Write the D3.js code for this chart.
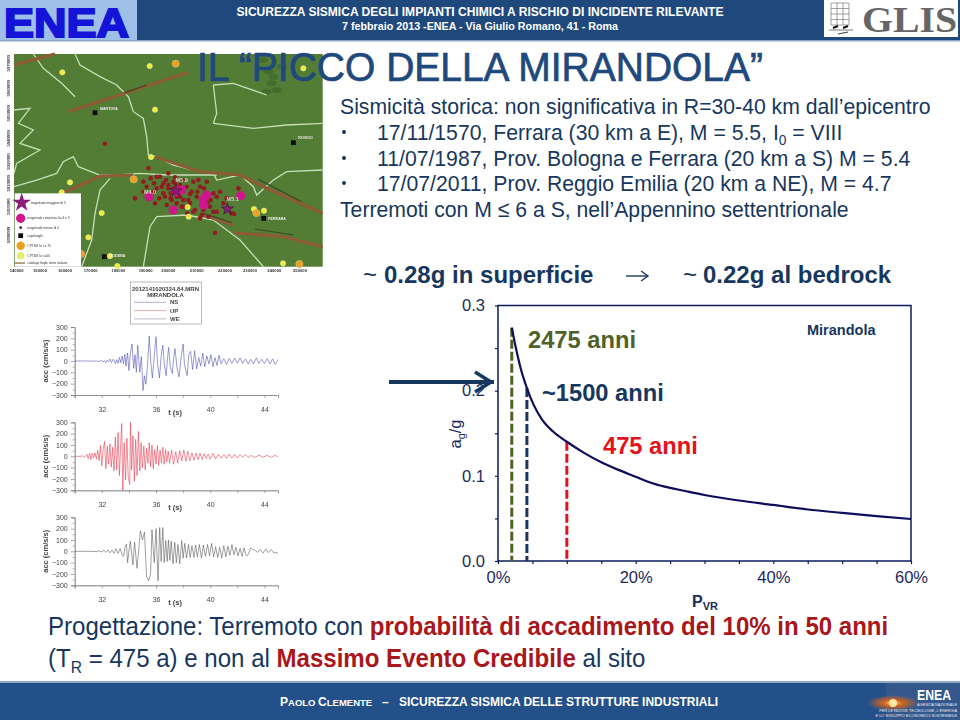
<!DOCTYPE html>
<html><head><meta charset="utf-8">
<style>html,body{margin:0;padding:0;background:#fff}svg{display:block}text{font-family:"Liberation Sans",Arial,sans-serif}</style>
<script src="https://cdn.jsdelivr.net/npm/d3@7"></script></head>
<body><svg id="s" width="960" height="720"></svg>
<script>
// ---------- hazard curve ----------
const pvrPct = [2.0,2.6,3.3,4.2,5.2,6.4,8,10,12.5,15,17.5,20,22,24.2,27,30,35,40,45,50,55,60];
const agOverG = [0.274,0.25,0.226,0.203,0.183,0.166,0.152,0.14,0.127,0.116,0.107,0.099,0.0925,0.0873,0.0825,0.0775,0.071,0.0658,0.0605,0.0565,0.0527,0.0493];
const dashPct = [2.0,4.2,10];
const dashTop = [0.274,0.203,0.14];
const dashColors = ["#4f6228","#17375e","#e3121b"];
const xMajor = [0,20,40,60], xMinor = [5,10,15,25,30,35,45,50,55];
const yMajor = [0,0.1,0.2,0.3], yMinor = [0.05,0.15,0.25];
// ---------- accelerograms (turning points) ----------
const nsT = [30,31,31.5,31.8,32,32.1,32.2,32.3,32.4,32.5,32.6,32.7,32.85,33,33.1,33.2,33.3,33.4,33.5,33.6,33.7,33.78,33.9,34,34.1,34.23,34.35,34.45,34.55,34.65,34.8,34.92,35.04,35.14,35.25,35.36,35.5,35.62,35.73,35.88,36,36.12,36.25,36.38,36.5,36.62,36.75,36.85,36.93,37.05,37.2,37.3,37.4,37.55,37.7,37.85,38,38.1,38.3,38.42,38.55,38.7,38.85,39,39.15,39.3,39.45,39.6,39.75,39.9,40.05,40.2,40.35,40.5,40.65,40.8,41,41.2,41.4,41.6,41.8,42,42.2,42.4,42.6,42.8,43,43.2,43.4,43.6,43.8,44,44.2,44.4,44.6,44.8,45];
const nsA = [0,0,-1,-3,6,-9,4,-16,7,-6,18,-12,16,-22,12,-20,32,-15,45,-25,60,-45,70,-85,60,150,-65,55,-100,140,-100,40,-260,-130,-205,-60,220,-20,-150,60,215,-30,-150,40,140,-40,-130,30,120,-50,-110,20,110,-60,-140,30,150,-30,-130,60,85,-75,90,-70,30,-45,70,-50,45,-25,55,-50,30,-40,50,-25,20,-30,22,-20,25,-18,28,-22,18,-28,15,-25,28,-20,15,-22,20,-25,18,-30,12];
const upT = [30,30.4,30.6,30.75,30.9,31,31.1,31.2,31.3,31.4,31.5,31.6,31.7,31.8,31.9,32,32.1,32.2,32.3,32.4,32.5,32.6,32.7,32.8,32.9,33,33.1,33.2,33.3,33.4,33.47,33.55,33.65,33.75,33.85,33.95,34.06,34.12,34.2,34.3,34.4,34.5,34.6,34.7,34.8,34.9,35,35.1,35.2,35.3,35.4,35.5,35.6,35.7,35.8,35.9,36,36.1,36.2,36.3,36.4,36.5,36.6,36.7,36.8,36.9,37,37.15,37.3,37.45,37.6,37.75,37.9,38.05,38.2,38.35,38.5,38.65,38.8,38.95,39.1,39.25,39.4,39.55,39.7,39.85,40,40.2,40.4,40.6,40.8,41,41.2,41.4,41.6,41.8,42,42.2,42.4,42.6,42.8,43,43.3,43.6,43.9,44.2,44.5,44.8,45];
const upA = [0,0,4,-8,18,-22,25,-30,28,-15,30,-25,55,-40,95,-85,60,130,-110,90,-70,110,-95,80,-130,170,-120,210,-170,130,290,-300,120,-210,160,-190,-250,300,-120,180,-220,150,-170,220,-130,120,-100,90,-120,70,-60,120,-90,100,-110,60,-70,95,-80,55,-60,80,-70,60,-50,45,-60,55,-70,40,-60,50,-40,55,-45,45,-40,30,-35,28,-30,26,-28,22,-20,18,-25,25,-22,18,-15,15,-18,20,-16,18,-15,14,-12,15,-10,8,-10,10,-8,8,-10,9,-8,8,-4];
const weT = [30,31,31.5,31.8,32,32.15,32.3,32.45,32.6,32.75,32.9,33.05,33.2,33.35,33.5,33.6,33.72,33.82,33.9,34.1,34.3,34.42,34.6,34.85,35,35.15,35.3,35.45,35.6,35.7,35.87,36,36.15,36.27,36.38,36.5,36.6,36.72,36.82,36.92,37.02,37.12,37.25,37.38,37.5,37.62,37.75,37.9,38,38.12,38.25,38.4,38.52,38.65,38.8,38.92,39.05,39.2,39.35,39.5,39.65,39.8,39.95,40.1,40.25,40.4,40.55,40.7,40.85,41,41.15,41.3,41.45,41.6,41.75,41.9,42.05,42.2,42.35,42.5,42.65,42.8,43,43.15,43.3,43.5,43.7,43.9,44.1,44.3,44.5,44.7,44.85,45];
const weA = [0,0,-2,3,-6,8,-10,12,-14,10,-18,22,-20,25,-30,-45,40,65,-100,90,-120,80,-150,180,100,170,-220,-260,-200,190,-100,200,-260,210,-90,210,-100,95,-90,100,-80,90,-110,80,-100,60,-110,95,-60,70,-60,60,-55,50,-55,55,-50,60,-60,55,-45,60,-40,70,-50,40,-55,35,-60,50,-50,45,-35,60,-30,35,-40,25,-45,30,-40,-30,30,15,10,-10,15,-15,20,-12,15,-15,-8,-20];
const waveTicks = [32,36,40,44], waveTicksMinor = [30,34,38,42];
const waveY = [-300,-200,-100,0,100,200,300], waveYMinor = [-250,-150,-50,50,150,250];
const legendChannels = ["NS","UP","WE"];
const legendColors = ["#9c9cc8","#e29a9a","#a9a9c4"];
// ---------- map (raster coordinates of the scanned map) ----------
const yellowE=[187,449,465,453,210,185,305,265,330,563,566,762,792,849,910,352], yellowN=[97,78,209,351,427,457,519,592,648,501,530,507,512,670,85,678];
const orangeE=[527,401,769,898,243], orangeN=[71,418,519,672,642];
const blackE=[285,880,791,313], blackN=[218,308,535,650];
const magentaE=[447,545,520,611,620,722,530,610], magentaN=[470,450,510,495,465,467,455,478];
const starE=[528,682], starN=[452,507];
const quakeE=[315,645,445,430,440,452,462,470,480,490,498,505,512,520,405,430,465,478,490,500,515,530,540,550,560,570,580,590,600,610,620,630,640,650,660,670,680,695,715,702,640,625,600,580,562,545,530,512,495,470,460,485,505,525,548,570,592,612,632,650,595,575,550,525,505,520,540,565,585,605,622];
const quakeN=[311,578,385,425,440,415,430,445,410,430,420,445,460,425,475,455,490,475,460,495,480,470,435,480,440,490,425,470,440,510,425,500,460,470,455,490,475,520,445,522,515,530,535,515,520,500,490,475,470,410,455,440,400,412,420,462,455,445,480,515,420,455,500,430,435,445,470,480,510,525,490];
const faults=[[[205,215],[565,97]],[[42,75],[165,42]],[[465,350],[600,395],[720,405],[790,440],[968,520]],[[190,458],[300,408],[400,405]],[[610,525],[700,555]],[[700,578],[850,590],[968,620]]];
const faultMarks=[[[375,158],[440,135]],[[775,418],[905,485]],[[765,567],[880,585]],[[610,520],[695,548]]];
const rivers=[[[225,42],[240,75],[300,110],[350,135],[385,170],[400,215],[430,235],[440,290],[445,345],[470,350],[520,375],[580,390],[640,400],[650,420],[720,405],[760,440],[770,465],[820,420],[860,395],[968,390]],
[[42,440],[110,420],[170,400],[190,365],[220,350],[235,380],[300,405],[350,405],[420,400],[500,405],[580,405],[650,405]],
[[640,250],[760,265],[860,255],[968,250]],[[640,135],[700,130],[800,165]],[[640,135],[650,220],[640,250]],
[[330,415],[300,450],[285,520],[275,600],[245,680]],
[[430,680],[450,560],[470,530],[560,525],[640,540],[720,600],[790,680]],
[[42,210],[90,205],[55,250],[100,270],[60,310],[120,330],[50,370],[42,400]],[[100,42],[130,85],[185,130],[225,170]]];
const hillE=[790,805,815,830,845,800,820],hillN=[60,95,130,150,80,155,110];
const mapTicksE=[50,120,195,272,355,437,505,590,675,750,823,900], mapLabelsE=["140000","150000","160000","170000","180000","190000","200000","210000","220000","230000","240000","250000"];
const mapTicksN=[70,145,220,295,365,430,500,585], mapLabelsN=["5070000","5060000","5050000","5040000","5030000","5020000","5010000","5000000"];
const cityNames=["MANTOVA","ROVIGO","FERRARA","MODENA"], cityE=[300,895,805,328], cityN=[205,294,535,648];
const shockNames=["M4.0","M5.9","M5.1"], shockE=[450,545,698], shockN=[457,420,478];
const mapLegendText=["magnitudo maggiore di 5","magnitudo compresa fra 4 e 5","magnitudo minore di 4","capoluoghi","CPTI08 Io >= 75","CPTI08 Io >=60","catalogo faglie attive italiane"];
// ---------- slide text ----------
const headerLines=["SICUREZZA SISMICA DEGLI IMPIANTI CHIMICI A RISCHIO DI INCIDENTE RILEVANTE","7 febbraio 2013 -ENEA - Via Giulio Romano, 41 - Roma"];
const titleText="IL “PICCO DELLA MIRANDOLA”";

const navy="#17375e", svg=d3.select("#s");
const defs=svg.append("defs");
defs.append("filter").attr("id","b1").append("feGaussianBlur").attr("stdDeviation",0.7);
defs.append("filter").attr("id","b2").append("feGaussianBlur").attr("stdDeviation",0.35);
const fire=defs.append("radialGradient").attr("id","fire");
fire.append("stop").attr("offset","0%").attr("stop-color","#ffe08a");
fire.append("stop").attr("offset","35%").attr("stop-color","#d8641c");
fire.append("stop").attr("offset","100%").attr("stop-color","#d8641c").attr("stop-opacity",0);

// Text of several runs. A subscript starts a new <text>, placed after the width of the previous one.
function rich(parent,x,y,size,sx,fill,runs){
  const g=parent.append("g").attr("transform",`translate(${x},${y}) scale(${sx},1)`);
  let cur=null, cx=0;
  const flush=()=>{ if(cur){cx+=cur.node().getComputedTextLength(); cur=null;} };
  runs.forEach(r=>{const o=r[1]||{};
    if(o.sub){flush();
      const t=g.append("text").attr("x",cx).attr("y",size*0.22).attr("font-size",size*0.65).attr("fill",fill).text(r[0]);
      cx+=t.node().getComputedTextLength(); return;}
    if(!cur) cur=g.append("text").attr("x",cx).attr("y",0).attr("font-size",size).attr("fill",fill).attr("xml:space","preserve").style("white-space","pre");
    const s=cur.append("tspan").text(r[0]);
    if(o.bold)s.attr("font-weight","bold"); if(o.fill)s.attr("fill",o.fill);
  });
  return g;
}

// ---------- header ----------
svg.append("rect").attr("width",960).attr("height",40).attr("fill","#1f497d");
svg.append("rect").attr("y",40).attr("width",960).attr("height",1.5).attr("fill","#8ea6c6");
svg.append("rect").attr("width",137).attr("height",40).attr("fill","#9dbfe8");
svg.append("text").attr("x",4).attr("y",37).attr("font-size",41).attr("font-weight","bold").attr("fill","#1414d8").attr("stroke","#1414d8").attr("stroke-width",2).attr("textLength",125).attr("lengthAdjust","spacingAndGlyphs").text("ENEA");
svg.append("rect").attr("x",824).attr("width",134).attr("height",37).attr("fill","#fff");
const gi=svg.append("g").attr("stroke","#888").attr("stroke-width",.8);
d3.range(4).forEach(i=>gi.append("line").attr("x1",831+i*6).attr("x2",831+i*6).attr("y1",3).attr("y2",25));
d3.range(5).forEach(i=>gi.append("line").attr("x1",831).attr("x2",849).attr("y1",3+i*5.5).attr("y2",3+i*5.5));
gi.append("line").attr("x1",829).attr("x2",853).attr("y1",30).attr("y2",30).attr("stroke","#555");
gi.append("path").attr("d",d3.line()([[833,28],[838,26]])).attr("stroke","#111").attr("stroke-width",2);
gi.append("path").attr("d",d3.line()([[843,28],[848,26]])).attr("stroke","#111").attr("stroke-width",2);
gi.append("path").attr("d",d3.line()([[848,32],[838,34]])).attr("stroke","#444").attr("stroke-width",1.2);
svg.append("text").attr("x",862).attr("y",32).attr("font-size",36).attr("font-weight","bold").attr("fill","#666").attr("style","font-family:'Liberation Serif',serif").attr("textLength",95).attr("lengthAdjust","spacingAndGlyphs").text("GLIS");
svg.append("text").attr("x",480).attr("y",16).attr("text-anchor","middle").attr("font-size",12).attr("font-weight","bold").attr("fill","#fff").attr("textLength",487).attr("lengthAdjust","spacingAndGlyphs").text(headerLines[0]);
svg.append("text").attr("x",480).attr("y",30).attr("text-anchor","middle").attr("font-size",11).attr("font-weight","bold").attr("fill","#fff").attr("textLength",276).attr("lengthAdjust","spacingAndGlyphs").text(headerLines[1]);

// ---------- map ----------
const mx=d3.scaleLinear([42,968],[14,322.7]), my=d3.scaleLinear([42,680],[54,266.7]);
const mg=svg.append("g").attr("filter","url(#b1)");
mg.append("rect").attr("x",mx(42)).attr("y",my(42)).attr("width",mx(968)-mx(42)).attr("height",my(680)-my(42)).attr("fill","#527b35");
const ml=d3.line().x(d=>mx(d[0])).y(d=>my(d[1]));
mg.selectAll(".h").data(hillE).enter().append("ellipse").attr("cx",d=>mx(d)).attr("cy",(d,i)=>my(hillN[i])).attr("rx",5).attr("ry",3).attr("fill","#3f6a2c").attr("opacity",.8);
mg.selectAll(".r").data(rivers).enter().append("path").attr("d",ml).attr("fill","none").attr("stroke","#c6dfb6").attr("stroke-width",1.3);
mg.selectAll(".f").data(faults).enter().append("path").attr("d",ml).attr("fill","none").attr("stroke","#8d5c36").attr("stroke-width",3.2);
mg.selectAll(".fm").data(faultMarks).enter().append("path").attr("d",ml).attr("fill","none").attr("stroke","#3e4a26").attr("stroke-width",1.2);
mg.selectAll(".q").data(quakeE).enter().append("circle").attr("cx",d=>mx(d)).attr("cy",(d,i)=>my(quakeN[i])).attr("r",2.3).attr("fill","#931c20");
mg.selectAll(".m").data(magentaE).enter().append("circle").attr("cx",d=>mx(d)).attr("cy",(d,i)=>my(magentaN[i])).attr("r",4.6).attr("fill","#d0178c");
mg.selectAll(".y").data(yellowE).enter().append("circle").attr("cx",d=>mx(d)).attr("cy",(d,i)=>my(yellowN[i])).attr("r",2.6).attr("fill","#eeee30").attr("stroke","#e8e89a").attr("stroke-width",.8);
mg.selectAll(".o").data(orangeE).enter().append("circle").attr("cx",d=>mx(d)).attr("cy",(d,i)=>my(orangeN[i])).attr("r",3.6).attr("fill","#eea020").attr("stroke","#d8b86a").attr("stroke-width",.8);
mg.selectAll(".b").data(blackE).enter().append("rect").attr("x",d=>mx(d)-2.4).attr("y",(d,i)=>my(blackN[i])-2.4).attr("width",4.8).attr("height",4.8).attr("fill","#0a0a0a");
const star=d3.symbol().type(d3.symbolStar).size(46);
mg.selectAll(".s").data(starE).enter().append("path").attr("d",star).attr("transform",(d,i)=>`translate(${mx(d)},${my(starN[i])})`).attr("fill","#8a1f7a").attr("stroke","#30102a").attr("stroke-width",.6);
mg.selectAll(".c").data(cityNames).enter().append("text").attr("x",(d,i)=>mx(cityE[i])).attr("y",(d,i)=>my(cityN[i])+1.2).attr("font-size",3.6).attr("font-weight","bold").attr("fill","#eee").text(d=>d);
mg.selectAll(".sh").data(shockNames).enter().append("text").attr("x",(d,i)=>mx(shockE[i])).attr("y",(d,i)=>my(shockN[i])+2).attr("font-size",5.5).attr("font-weight","bold").attr("fill","#d5d5c8").attr("text-anchor","middle").text(d=>d);
// map legend
const lg=mg.append("g");
lg.append("rect").attr("x",mx(44)).attr("y",my(460)).attr("width",mx(243)-mx(44)).attr("height",my(680)-my(460)).attr("fill","#fff");
const lgY=[488,535,563,587,617,647,669];
lg.append("path").attr("d",d3.symbol().type(d3.symbolStar).size(110)).attr("transform",`translate(${mx(65)},${my(lgY[0])})`).attr("fill","#8a1f7a");
lg.append("circle").attr("cx",mx(62)).attr("cy",my(lgY[1])).attr("r",4.6).attr("fill","#d0178c");
lg.append("circle").attr("cx",mx(62)).attr("cy",my(lgY[2])).attr("r",1.4).attr("fill","#502020");
lg.append("rect").attr("x",mx(62)-2.4).attr("y",my(lgY[3])-2.4).attr("width",4.8).attr("height",4.8).attr("fill","#0a0a0a");
lg.append("circle").attr("cx",mx(62)).attr("cy",my(lgY[4])).attr("r",4.2).attr("fill","#eea020");
lg.append("circle").attr("cx",mx(62)).attr("cy",my(lgY[5])).attr("r",3.8).attr("fill","#e6ee70");
lg.append("line").attr("x1",mx(44)).attr("x2",mx(75)).attr("y1",my(lgY[6])).attr("y2",my(lgY[6])).attr("stroke","#8d5c36").attr("stroke-width",1.2);
lg.selectAll("text").data(mapLegendText).enter().append("text").attr("x",(d,i)=>mx(i==0?92:82)).attr("y",(d,i)=>my(lgY[i])+1).attr("font-size",3.2).attr("fill","#333").text(d=>d);
// map axes
mg.selectAll(".tx").data(mapLabelsE).enter().append("text").attr("x",(d,i)=>mx(mapTicksE[i])).attr("y",272).attr("text-anchor","middle").attr("font-size",4.2).attr("font-weight","bold").attr("fill","#333").text(d=>d);
mg.selectAll(".ty").data(mapLabelsN).enter().append("text").attr("transform",(d,i)=>`translate(10,${my(mapTicksN[i])}) rotate(-90)`).attr("text-anchor","middle").attr("font-size",4.2).attr("font-weight","bold").attr("fill","#333").text(d=>d);

// ---------- title and text ----------
svg.append("text").attr("x",480).attr("y",81).attr("text-anchor","middle").attr("font-size",40).attr("fill","#1f497d").attr("stroke","#1f497d").attr("stroke-width",.7).attr("textLength",566).attr("lengthAdjust","spacingAndGlyphs").text(titleText);
const fs=22.8, sx=0.93;
rich(svg,340,114,fs,sx,navy,[["Sismicità storica: non significativa in R=30-40 km dall’epicentro"]]);
rich(svg,377,140,fs,sx,navy,[["17/11/1570, Ferrara (30 km a E), M = 5.5, I"],["0",{sub:1}],[" = VIII"]]);
rich(svg,377,166,fs,sx,navy,[["11/07/1987, Prov. Bologna e Ferrara (20 km a S) M = 5.4"]]);
rich(svg,377,191,fs,sx,navy,[["17/07/2011, Prov. Reggio Emilia (20 km a NE), M = 4.7"]]);
rich(svg,340,217,fs,sx,navy,[["Terremoti con M ≤ 6 a S, nell’Appennino settentrionale"]]);
[132,158,183].forEach(y=>svg.append("circle").attr("cx",344).attr("cy",y).attr("r",2).attr("fill",navy));
svg.append("text").attr("x",363).attr("y",283).attr("font-size",24).attr("fill",navy).text("~");
svg.append("text").attr("x",384).attr("y",283).attr("font-size",24).attr("font-weight","bold").attr("fill",navy).text("0.28g in superficie");
svg.append("text").attr("x",683).attr("y",283).attr("font-size",24).attr("fill",navy).text("~");
svg.append("text").attr("x",703).attr("y",283).attr("font-size",24).attr("font-weight","bold").attr("fill",navy).text("0.22g al bedrock");
const arrowLine=d3.line();
svg.append("path").attr("d",arrowLine([[626,276],[648,276]])).attr("stroke",navy).attr("stroke-width",1.4);
svg.append("path").attr("d",arrowLine([[641,271],[648,276],[641,281]])).attr("fill","none").attr("stroke",navy).attr("stroke-width",1.4);

// ---------- hazard chart ----------
const X=d3.scaleLinear([0,60],[498,911]), Y=d3.scaleLinear([0,0.3],[561,305.5]);
const axc="#0d1a5c", c=svg.append("g");
c.append("rect").attr("x",X(0)).attr("y",Y(.3)).attr("width",X(60)-X(0)).attr("height",Y(0)-Y(.3)).attr("fill","none").attr("stroke",axc).attr("stroke-width",1.5);
const style=g=>{g.select(".domain").remove();g.selectAll("line").attr("stroke",axc).attr("stroke-width",1.2);g.selectAll("text").attr("font-size",16.5).attr("fill","#1a2a5c").attr("style","font-family:'Liberation Sans'");};
c.append("g").attr("transform",`translate(0,${Y(0)})`).call(d3.axisBottom(X).tickValues(xMajor).tickSize(3).tickPadding(7).tickFormat(d=>d+"%")).call(style);
c.append("g").attr("transform",`translate(0,${Y(0)})`).call(d3.axisBottom(X).tickValues(xMinor).tickSize(3).tickFormat("")).call(style);
c.append("g").attr("transform",`translate(${X(0)},0)`).call(d3.axisLeft(Y).tickValues(yMajor).tickSize(3).tickPadding(10).tickFormat(d3.format(".1f"))).call(style);
c.append("g").attr("transform",`translate(${X(0)},0)`).call(d3.axisLeft(Y).tickValues(yMinor).tickSize(3).tickFormat("")).call(style);
c.selectAll(".d").data(dashPct).enter().append("line").attr("x1",d=>X(d)).attr("x2",d=>X(d)).attr("y1",(d,i)=>Y(dashTop[i])).attr("y2",Y(0)).attr("stroke",(d,i)=>dashColors[i]).attr("stroke-width",3).attr("stroke-dasharray","9 3");
c.append("path").attr("d",d3.line().x(d=>X(d)).y((d,i)=>Y(agOverG[i])).curve(d3.curveMonotoneX)(pvrPct)).attr("fill","none").attr("stroke","#0d0d5c").attr("stroke-width",2.2);
const yl=svg.append("text").attr("transform","translate(461,434) rotate(-90)").attr("text-anchor","middle").attr("font-size",16.5).attr("fill","#1a2a5c");
yl.append("tspan").text("a");yl.append("tspan").text("g").attr("font-size",11).attr("dy",4);yl.append("tspan").text("/g").attr("dy",-4);
const xl=svg.append("text").attr("x",692).attr("y",607).attr("font-size",16).attr("font-weight","bold").attr("fill","#1a2a5c");
xl.append("tspan").text("P");xl.append("tspan").text("VR").attr("font-size",11).attr("dy",3);
const lab=(x,y,t,col,sz)=>svg.append("text").attr("x",x).attr("y",y).attr("font-size",sz).attr("font-weight","bold").attr("fill",col).text(t);
lab(528,348,"2475 anni","#4f6228",23.7);
lab(542,401,"~1500 anni",navy,23.7);
lab(603,454,"475 anni","#e3121b",23.7);
lab(807,335,"Mirandola",navy,14.5);
svg.append("path").attr("d",arrowLine([[389,382],[494,382]])).attr("stroke",navy).attr("stroke-width",4);
svg.append("path").attr("d",arrowLine([[475,372],[491,382],[475,392]])).attr("fill","none").attr("stroke",navy).attr("stroke-width",3.5);

// ---------- accelerograms ----------
const tScale=d3.scaleLinear([30,45],[74.7,278]);
const dark="#444";
function panel(top,T,A,col){
  const yS=d3.scaleLinear([-300,300],[top+68,top]);
  const g=svg.append("g").attr("filter","url(#b2)");
  const st=s=>{s.select(".domain").attr("stroke","#888").attr("stroke-width",.7);s.selectAll("line").attr("stroke","#888").attr("stroke-width",.7);s.selectAll("text").attr("font-size",7).attr("fill",dark).attr("style","font-family:'Liberation Sans'");};
  g.append("g").attr("transform",`translate(${tScale(30)},0)`).call(d3.axisLeft(yS).tickValues(waveY).tickSize(4).tickPadding(3).tickFormat(d3.format("d"))).call(st);
  g.append("g").attr("transform",`translate(${tScale(30)},0)`).call(d3.axisLeft(yS).tickValues(waveYMinor).tickSize(2).tickFormat("")).call(st);
  g.append("g").attr("transform",`translate(0,${top+68})`).call(d3.axisBottom(tScale).tickValues(waveTicks).tickSize(3).tickPadding(9).tickFormat(d3.format("d"))).call(st);
  g.append("g").attr("transform",`translate(0,${top+68})`).call(d3.axisBottom(tScale).tickValues(waveTicksMinor).tickSize(3).tickFormat("")).call(st);
  g.append("path").attr("d",d3.line().x(d=>tScale(d)).y((d,i)=>yS(A[i]))(T)).attr("fill","none").attr("stroke",col).attr("stroke-width",.8).attr("stroke-opacity",.7);
  g.append("text").attr("x",175).attr("y",top+87.5).attr("text-anchor","middle").attr("font-size",7.5).attr("font-weight","bold").attr("fill",dark).text("t (s)");
  g.append("text").attr("transform",`translate(48,${top+34}) rotate(-90)`).attr("text-anchor","middle").attr("font-size",7.5).attr("font-weight","bold").attr("fill",dark).text("acc (cm/s/s)");
}
panel(327,nsT,nsA,"#4a4ab0");
panel(422.3,upT,upA,"#e63347");
panel(517.3,weT,weA,"#555");
const wl=svg.append("g").attr("filter","url(#b2)");
wl.append("rect").attr("x",130.5).attr("y",282).attr("width",71).attr("height",42).attr("fill","#fff").attr("stroke","#aaa").attr("stroke-width",.8);
wl.append("text").attr("x",165.5).attr("y",290.5).attr("text-anchor","middle").attr("font-size",6).attr("font-weight","bold").attr("fill",dark).text("2012141020324.84.MRN");
wl.append("text").attr("x",165.5).attr("y",297.3).attr("text-anchor","middle").attr("font-size",6).attr("font-weight","bold").attr("fill",dark).text("MIRANDOLA");
legendChannels.forEach((n,i)=>{const y=302.3+i*8.3;
  wl.append("line").attr("x1",134).attr("x2",166).attr("y1",y).attr("y2",y).attr("stroke",legendColors[i]).attr("stroke-width",.8);
  wl.append("text").attr("x",170).attr("y",y+2.1).attr("font-size",6).attr("font-weight","bold").attr("fill",dark).text(n);});

// ---------- bottom text ----------
const red="#a8171b";
rich(svg,48,635,25.6,0.94,navy,[["Progettazione: Terremoto con "],["probabilità di accadimento del 10% in 50 anni",{bold:1,fill:red}]]);
rich(svg,48,667,25.6,0.94,navy,[["(T"],["R",{sub:1}],[" = 475 a) e non al "],["Massimo Evento Credibile",{bold:1,fill:red}],[" al sito"]]);
// ---------- footer ----------
svg.append("rect").attr("y",682).attr("width",960).attr("height",38).attr("fill","#24508a");
svg.append("rect").attr("y",681).attr("width",960).attr("height",2).attr("fill","#8fa8c8");
const ft=svg.append("text").attr("x",280).attr("y",706).attr("font-size",12).attr("font-weight","bold").attr("fill","#fff");
ft.append("tspan").text("P");ft.append("tspan").text("AOLO ").attr("font-size",9.5);ft.append("tspan").text("C");ft.append("tspan").text("LEMENTE").attr("font-size",9.5);
svg.append("text").attr("x",382).attr("y",706).attr("font-size",12).attr("font-weight","bold").attr("fill","#fff").text("–");
svg.append("text").attr("x",399).attr("y",706).attr("font-size",12).attr("font-weight","bold").attr("fill","#fff").text("SICUREZZA SISMICA DELLE STRUTTURE INDUSTRIALI");
svg.append("rect").attr("x",886).attr("y",683).attr("width",74).attr("height",37).attr("fill","#34588c");
svg.append("ellipse").attr("cx",893).attr("cy",703).attr("rx",26).attr("ry",8).attr("fill","url(#fire)");
svg.append("circle").attr("cx",893).attr("cy",703).attr("r",4).attr("fill","#ffe9a0");
svg.append("text").attr("x",917).attr("y",700).attr("font-size",15).attr("font-weight","bold").attr("fill","#fff").attr("textLength",34).attr("lengthAdjust","spacingAndGlyphs").text("ENEA");
["AGENZIA NAZIONALE","PER LE NUOVE TECNOLOGIE, L'ENERGIA","E LO SVILUPPO ECONOMICO SOSTENIBILE"].forEach((t,i)=>svg.append("text").attr("x",957).attr("y",706+i*5.5).attr("text-anchor","end").attr("font-size",3.9).attr("fill","#e8e8f0").text(t));
</script></body></html>
